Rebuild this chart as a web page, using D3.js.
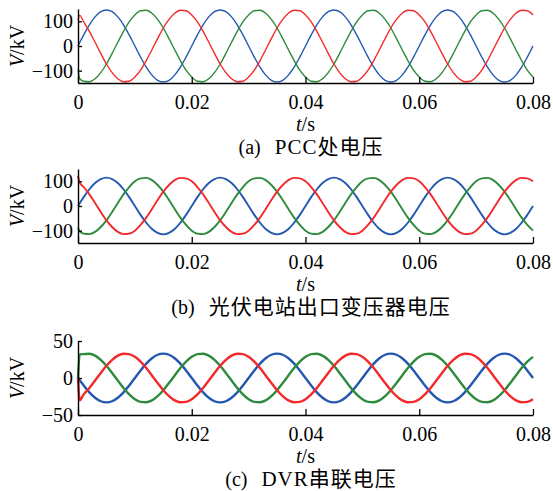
<!DOCTYPE html>
<html><head><meta charset="utf-8">
<script src="https://cdn.jsdelivr.net/npm/d3@7"></script>
<style>body{margin:0;background:#fff}svg{display:block}</style>
</head><body>
<svg id="chart" width="553" height="491"></svg>
<script>
// ---------- data ----------
const time = [0,0.0003,
0.001,0.002,0.003,0.004,0.005,0.006,0.007,0.008,0.009,0.010,
0.011,0.012,0.013,0.014,0.015,0.016,0.017,0.018,0.019,0.020,
0.021,0.022,0.023,0.024,0.025,0.026,0.027,0.028,0.029,0.030,
0.031,0.032,0.033,0.034,0.035,0.036,0.037,0.038,0.039,0.040,
0.041,0.042,0.043,0.044,0.045,0.046,0.047,0.048,0.049,0.050,
0.051,0.052,0.053,0.054,0.055,0.056,0.057,0.058,0.059,0.060,
0.061,0.062,0.063,0.064,0.065,0.066,0.067,0.068,0.069,0.070,
0.071,0.072,0.073,0.074,0.075,0.076,0.077,0.078,0.079,0.080];

const xTicks = [0,0.02,0.04,0.06,0.08];
const xTickLabels = ["0","0.02","0.04","0.06","0.08"];
const yTicksAB = [-100,0,100];
const yTickLabelsAB = ["\u2212100","0","100"];
const yTicksC = [-50,0,50];
const yTickLabelsC = ["\u221250","0","50"];

// (a) PCC voltage
const blueA = [0,14,
45,86,118,139,146,139,118,86,45,0,-45,-86,-118,-139,-146,-139,-118,-86,-45,0,
45,86,118,139,146,139,118,86,45,0,-45,-86,-118,-139,-146,-139,-118,-86,-45,0,
45,86,118,139,146,139,118,86,45,0,-45,-86,-118,-139,-146,-139,-118,-86,-45,0,
45,86,118,139,146,139,118,86,45,0,-45,-86,-118,-139,-146,-139,-118,-86,-45,0];
const redA = [105,124,
98,59,15,-30,-73,-108,-133,-145,-143,-126,-98,-59,-15,30,73,108,133,145,143,126,
98,59,15,-30,-73,-108,-133,-145,-143,-126,-98,-59,-15,30,73,108,133,145,143,126,
98,59,15,-30,-73,-108,-133,-145,-143,-126,-98,-59,-15,30,73,108,133,145,143,126,
98,59,15,-30,-73,-108,-133,-145,-143,-126,-98,-59,-15,30,73,108,133,145,143,126];
const greenA = [-95,-133,
-143,-145,-133,-108,-73,-30,15,59,98,126,143,145,133,108,73,30,-15,-59,-98,-126,
-143,-145,-133,-108,-73,-30,15,59,98,126,143,145,133,108,73,30,-15,-59,-98,-126,
-143,-145,-133,-108,-73,-30,15,59,98,126,143,145,133,108,73,30,-15,-59,-98,-126,
-143,-145,-133,-108,-73,-30,15,59,98,126,143,145,133,108,73,30,-15,-59,-98,-126];

// (b) PV station transformer outlet voltage
const blueB = [0,11,
36,68,93,109,115,109,93,68,36,0,-36,-68,-93,-109,-115,-109,-93,-68,-36,0,
36,68,93,109,115,109,93,68,36,0,-36,-68,-93,-109,-115,-109,-93,-68,-36,0,
36,68,93,109,115,109,93,68,36,0,-36,-68,-93,-109,-115,-109,-93,-68,-36,0,
36,68,93,109,115,109,93,68,36,0,-36,-68,-93,-109,-115,-109,-93,-68,-36,0];
const redB = [122,96,
77,47,12,-24,-58,-85,-105,-114,-112,-100,-77,-47,-12,24,58,85,105,114,112,100,
77,47,12,-24,-58,-85,-105,-114,-112,-100,-77,-47,-12,24,58,85,105,114,112,100,
77,47,12,-24,-58,-85,-105,-114,-112,-100,-77,-47,-12,24,58,85,105,114,112,100,
77,47,12,-24,-58,-85,-105,-114,-112,-100,-77,-47,-12,24,58,85,105,114,112,100];
const greenB = [-88,-103,
-112,-114,-105,-85,-58,-24,12,47,77,100,112,114,105,85,58,24,-12,-47,-77,-100,
-112,-114,-105,-85,-58,-24,12,47,77,100,112,114,105,85,58,24,-12,-47,-77,-100,
-112,-114,-105,-85,-58,-24,12,47,77,100,112,114,105,85,58,24,-12,-47,-77,-100,
-112,-114,-105,-85,-58,-24,12,47,77,100,112,114,105,85,58,24,-12,-47,-77,-100];

// (c) DVR series voltage
const blueC = [0,-3,
-10.2,-19.4,-26.7,-31.4,-33,-31.4,-26.7,-19.4,-10.2,0,10.2,19.4,26.7,31.4,33,31.4,26.7,19.4,10.2,0,
-10.2,-19.4,-26.7,-31.4,-33,-31.4,-26.7,-19.4,-10.2,0,10.2,19.4,26.7,31.4,33,31.4,26.7,19.4,10.2,0,
-10.2,-19.4,-26.7,-31.4,-33,-31.4,-26.7,-19.4,-10.2,0,10.2,19.4,26.7,31.4,33,31.4,26.7,19.4,10.2,0,
-10.2,-19.4,-26.7,-31.4,-33,-31.4,-26.7,-19.4,-10.2,0,10.2,19.4,26.7,31.4,33,31.4,26.7,19.4,10.2,0];
const redC = [0,-30,
-22.1,-13.4,-3.5,6.9,16.5,24.5,30.2,32.8,32.3,28.6,22.1,13.4,3.5,-6.9,-16.5,-24.5,-30.2,-32.8,-32.3,-28.6,
-22.1,-13.4,-3.5,6.9,16.5,24.5,30.2,32.8,32.3,28.6,22.1,13.4,3.5,-6.9,-16.5,-24.5,-30.2,-32.8,-32.3,-28.6,
-22.1,-13.4,-3.5,6.9,16.5,24.5,30.2,32.8,32.3,28.6,22.1,13.4,3.5,-6.9,-16.5,-24.5,-30.2,-32.8,-32.3,-28.6,
-22.1,-13.4,-3.5,6.9,16.5,24.5,30.2,32.8,32.3,28.6,22.1,13.4,3.5,-6.9,-16.5,-24.5,-30.2,-32.8,-32.3,-28.6];
const greenC = [0,32,
32.3,32.8,30.2,24.5,16.5,6.9,-3.5,-13.4,-22.1,-28.6,-32.3,-32.8,-30.2,-24.5,-16.5,-6.9,3.5,13.4,22.1,28.6,
32.3,32.8,30.2,24.5,16.5,6.9,-3.5,-13.4,-22.1,-28.6,-32.3,-32.8,-30.2,-24.5,-16.5,-6.9,3.5,13.4,22.1,28.6,
32.3,32.8,30.2,24.5,16.5,6.9,-3.5,-13.4,-22.1,-28.6,-32.3,-32.8,-30.2,-24.5,-16.5,-6.9,3.5,13.4,22.1,28.6,
32.3,32.8,30.2,24.5,16.5,6.9,-3.5,-13.4,-22.1,-28.6,-32.3,-32.8,-30.2,-24.5,-16.5,-6.9,3.5,13.4,22.1,28.6];

const captionTags = ["(a)","(b)","(c)"];
const captionTexts = ["PCC处电压","光伏电站出口变压器电压","DVR串联电压"];

// ---------- layout / style ----------
const colors = {blue:"#2357b0", green:"#2e8a3d", red:"#f22a2c"};
const serif = "Liberation Serif, DejaVu Serif, serif";
const cjk = "Liberation Serif, Noto Sans CJK SC, serif";
const xLeft = 78, xRight = 533;
const panels = [
  {top:9, bottom:83, domain:[-150,150], ticks:yTicksAB, labels:yTickLabelsAB,
   series:[["blue",blueA],["green",greenA],["red",redA]], lw:1.4},
  {top:169, bottom:243, domain:[-150,150], ticks:yTicksAB, labels:yTickLabelsAB,
   series:[["blue",blueB],["green",greenB],["red",redB]], lw:1.9},
  {top:341, bottom:415, domain:[-50,50], ticks:yTicksC, labels:yTickLabelsC,
   series:[["blue",blueC],["green",greenC],["red",redC]], lw:2.4}
];

const svg = d3.select("#chart");
const x = d3.scaleLinear().domain([0,0.08]).range([xLeft,xRight]);

panels.forEach((p,i)=>{
  const y = d3.scaleLinear().domain(p.domain).range([p.bottom,p.top]);
  const g = svg.append("g");
  const line = d3.line().x((d,j)=>x(time[j])).y(d=>y(d)).curve(d3.curveMonotoneX);
  p.series.forEach(([c,vals])=>{
    g.append("path").datum(vals).attr("d",line)
     .attr("fill","none").attr("stroke",colors[c]).attr("stroke-width",p.lw)
     .attr("stroke-linejoin","round");
  });
  // x axis
  const xa = g.append("g").attr("transform",`translate(0,${p.bottom})`)
    .call(d3.axisBottom(x).tickValues(xTicks).tickFormat((d,k)=>xTickLabels[k])
      .tickSizeInner(-6).tickSizeOuter(0).tickPadding(11.5));
  // y axis
  const ya = g.append("g").attr("transform",`translate(${xLeft},0)`)
    .call(d3.axisLeft(y).tickValues(p.ticks).tickFormat((d,k)=>p.labels[k])
      .tickSizeInner(-4).tickSizeOuter(0).tickPadding(5));
  [xa,ya].forEach(a=>{
    a.attr("font-family",serif).attr("font-size",20);
    a.select(".domain").attr("stroke","#000").attr("stroke-width",1.4);
    a.selectAll(".tick line").attr("stroke","#000").attr("stroke-width",1.3);
    a.selectAll(".tick text").attr("fill","#000");
  });
  // y title
  const yt = g.append("text")
    .attr("transform",`translate(24,${(p.top+p.bottom)/2}) rotate(-90)`)
    .attr("text-anchor","middle").attr("font-family",serif).attr("font-size",20);
  yt.append("tspan").style("font-style","italic").text("V");
  yt.append("tspan").text("/kV");
  // x title
  const xt = g.append("text").attr("x",(xLeft+xRight)/2).attr("y",p.bottom+47.5)
    .attr("text-anchor","middle").attr("font-family",serif).attr("font-size",20);
  xt.append("tspan").style("font-style","italic").text("t");
  xt.append("tspan").text("/s");
  // caption
  const cap = g.append("text").attr("x",311).attr("y",p.bottom+70.5)
    .attr("text-anchor","middle").attr("font-family",cjk).attr("font-size",20);
  cap.append("tspan").text(captionTags[i]);
  cap.append("tspan").attr("dx",14).attr("font-size",21).attr("letter-spacing",1).text(captionTexts[i]);
});
</script>
</body></html>
